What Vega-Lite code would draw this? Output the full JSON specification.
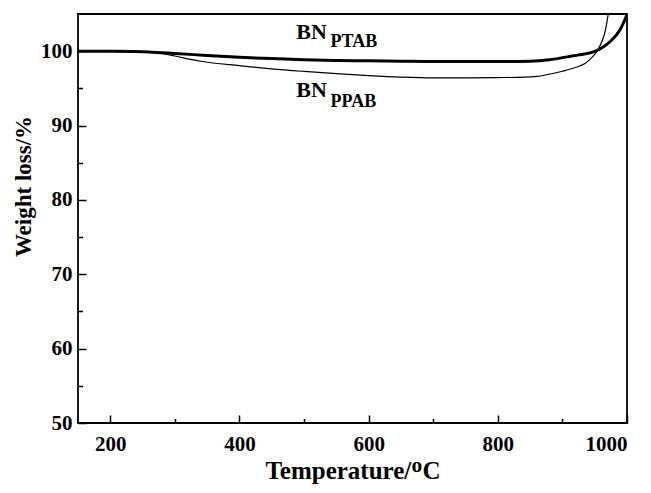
{
  "$schema": "https://vega.github.io/schema/vega-lite/v6.json",
  "width": 549,
  "height": 409,
  "autosize": "none",
  "padding": {"left": 78, "top": 14, "right": 24, "bottom": 70},
  "background": "white",
  "config": {
    "view": {"stroke": "black", "strokeWidth": 1.8},
    "font": "Liberation Serif",
    "axis": {
      "domain": false,
      "grid": false,
      "tickColor": "black",
      "tickWidth": 1.5,
      "labelColor": "black",
      "labelFont": "Liberation Serif",
      "labelFontWeight": "bold",
      "labelFontSize": 21,
      "titleFont": "Liberation Serif",
      "titleFontWeight": "bold",
      "titleFontSize": 25,
      "titleColor": "black"
    }
  },
  "resolve": {"axis": {"x": "independent", "y": "independent"}},
  "datasets": {
    "curves": [
      {"T": 150, "W": 100.0, "s": "PTAB"},
      {"T": 200, "W": 99.98, "s": "PTAB"},
      {"T": 260, "W": 99.9, "s": "PTAB"},
      {"T": 300, "W": 99.7, "s": "PTAB"},
      {"T": 350, "W": 99.42, "s": "PTAB"},
      {"T": 400, "W": 99.18, "s": "PTAB"},
      {"T": 450, "W": 99.0, "s": "PTAB"},
      {"T": 500, "W": 98.86, "s": "PTAB"},
      {"T": 550, "W": 98.76, "s": "PTAB"},
      {"T": 600, "W": 98.7, "s": "PTAB"},
      {"T": 650, "W": 98.65, "s": "PTAB"},
      {"T": 700, "W": 98.6, "s": "PTAB"},
      {"T": 750, "W": 98.6, "s": "PTAB"},
      {"T": 800, "W": 98.6, "s": "PTAB"},
      {"T": 850, "W": 98.65, "s": "PTAB"},
      {"T": 880, "W": 98.85, "s": "PTAB"},
      {"T": 905, "W": 99.2, "s": "PTAB"},
      {"T": 925, "W": 99.5, "s": "PTAB"},
      {"T": 948, "W": 99.9, "s": "PTAB"},
      {"T": 962, "W": 100.5, "s": "PTAB"},
      {"T": 974, "W": 101.3, "s": "PTAB"},
      {"T": 989, "W": 102.85, "s": "PTAB"},
      {"T": 1000, "W": 104.9, "s": "PTAB"},
      {"T": 150, "W": 100.0, "s": "PPAB"},
      {"T": 200, "W": 99.96, "s": "PPAB"},
      {"T": 260, "W": 99.86, "s": "PPAB"},
      {"T": 280, "W": 99.7, "s": "PPAB"},
      {"T": 300, "W": 99.35, "s": "PPAB"},
      {"T": 340, "W": 98.65, "s": "PPAB"},
      {"T": 400, "W": 98.05, "s": "PPAB"},
      {"T": 450, "W": 97.62, "s": "PPAB"},
      {"T": 500, "W": 97.28, "s": "PPAB"},
      {"T": 550, "W": 96.98, "s": "PPAB"},
      {"T": 600, "W": 96.72, "s": "PPAB"},
      {"T": 650, "W": 96.52, "s": "PPAB"},
      {"T": 700, "W": 96.42, "s": "PPAB"},
      {"T": 750, "W": 96.42, "s": "PPAB"},
      {"T": 800, "W": 96.45, "s": "PPAB"},
      {"T": 840, "W": 96.5, "s": "PPAB"},
      {"T": 860, "W": 96.6, "s": "PPAB"},
      {"T": 880, "W": 96.9, "s": "PPAB"},
      {"T": 900, "W": 97.3, "s": "PPAB"},
      {"T": 920, "W": 97.8, "s": "PPAB"},
      {"T": 935, "W": 98.35, "s": "PPAB"},
      {"T": 945, "W": 99.1, "s": "PPAB"},
      {"T": 955, "W": 100.2, "s": "PPAB"},
      {"T": 962, "W": 101.5, "s": "PPAB"},
      {"T": 967, "W": 103.0, "s": "PPAB"},
      {"T": 971, "W": 105.0, "s": "PPAB"},
      {"T": 975, "W": 107.0, "s": "PPAB"}
    ],
    "labels": [
      {"T": 488, "W": 101.67, "t": "BN", "part": "main"},
      {"T": 541, "W": 100.54, "t": "PTAB", "part": "sub"},
      {"T": 488, "W": 93.9, "t": "BN", "part": "main"},
      {"T": 541, "W": 92.47, "t": "PPAB", "part": "sub"}
    ]
  },
  "layer": [
    {
      "data": {"name": "curves"},
      "transform": [{"filter": "datum.s == 'PPAB'"}],
      "mark": {"type": "line", "color": "black", "strokeWidth": 1.2, "clip": true, "interpolate": "monotone"},
      "encoding": {
        "x": {
          "field": "T", "type": "quantitative",
          "scale": {"domain": [150, 1000], "nice": false, "zero": false},
          "axis": {
            "orient": "bottom",
            "title": "Temperature/ᴼC",
            "values": [200, 400, 600, 800, 1000],
            "tickSize": -8,
            "labelPadding": 18,
            "titlePadding": 4,
            "format": "d"
          }
        },
        "y": {
          "field": "W", "type": "quantitative",
          "scale": {"domain": [50, 105], "nice": false, "zero": false},
          "axis": {
            "orient": "left",
            "title": "Weight loss/%",
            "titleFontSize": 23,
            "titleY": 172,
            "values": [50, 60, 70, 80, 90, 100],
            "tickSize": -8,
            "labelPadding": 14,
            "titlePadding": 5,
            "format": "d"
          }
        }
      }
    },
    {
      "data": {"name": "curves"},
      "transform": [{"filter": "datum.s == 'PTAB'"}],
      "mark": {"type": "line", "color": "black", "strokeWidth": 3, "clip": true, "interpolate": "monotone"},
      "encoding": {
        "x": {
          "field": "T", "type": "quantitative",
          "axis": {"orient": "bottom", "title": null, "labels": false, "values": [300, 500, 700, 900], "tickSize": -4.5}
        },
        "y": {
          "field": "W", "type": "quantitative",
          "axis": {"orient": "left", "title": null, "labels": false, "values": [55, 65, 75, 85, 95], "tickSize": -4.5}
        }
      }
    },
    {
      "data": {"name": "labels"},
      "transform": [{"filter": "datum.part == 'main'"}],
      "mark": {"type": "text", "align": "left", "baseline": "alphabetic", "font": "Liberation Serif", "fontWeight": "bold", "fontSize": 22, "color": "black"},
      "encoding": {
        "x": {"field": "T", "type": "quantitative", "axis": null},
        "y": {"field": "W", "type": "quantitative", "axis": null},
        "text": {"field": "t"}
      }
    },
    {
      "data": {"name": "labels"},
      "transform": [{"filter": "datum.part == 'sub'"}],
      "mark": {"type": "text", "align": "left", "baseline": "alphabetic", "font": "Liberation Serif", "fontWeight": "bold", "fontSize": 18, "color": "black"},
      "encoding": {
        "x": {"field": "T", "type": "quantitative", "axis": null},
        "y": {"field": "W", "type": "quantitative", "axis": null},
        "text": {"field": "t"}
      }
    }
  ]
}
